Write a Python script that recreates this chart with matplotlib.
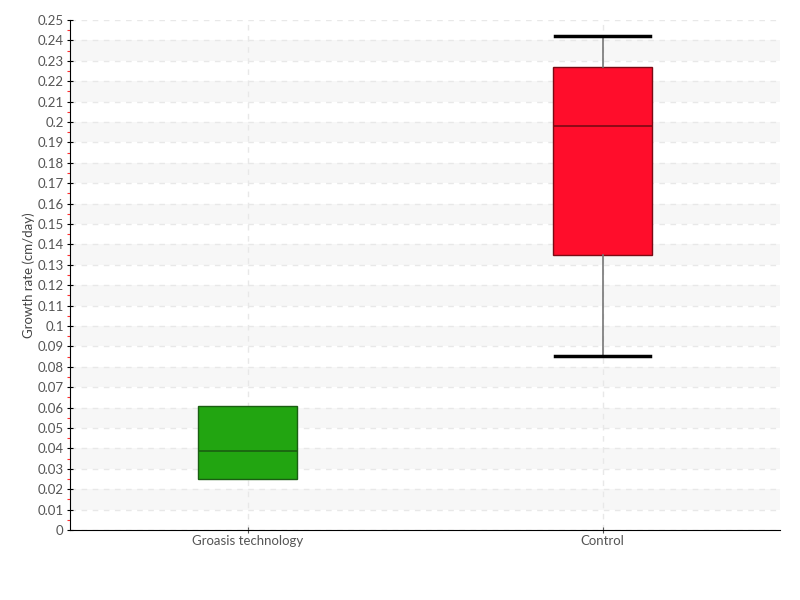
import matplotlib
matplotlib.use("Agg")
import matplotlib.pyplot as plt
from matplotlib.ticker import MultipleLocator

plt.rcParams["font.family"] = ["Lato", "DejaVu Sans"]

categories = ["Groasis technology", "Control"]
q1 = [0.025, 0.135]
medians = [0.0385, 0.198]
q3 = [0.061, 0.227]
whisker_low = [0.025, 0.0855]
whisker_high = [0.061, 0.242]
box_colors = ["#22a511", "#ff0d2b"]
edge_colors = ["#1a5e12", "#7a0a14"]

fig = plt.figure(figsize=(8, 6), dpi=100)
ax = fig.add_axes([0.0875, 0.1167, 0.8875, 0.85])

positions = [0.5, 1.5]
for i, name in enumerate(categories):
    stats = [{"label": name, "q1": q1[i], "med": medians[i], "q3": q3[i],
              "whislo": whisker_low[i], "whishi": whisker_high[i], "fliers": []}]
    has_whiskers = whisker_low[i] < q1[i] or whisker_high[i] > q3[i]
    ax.bxp(stats, positions=[positions[i]], widths=0.28, patch_artist=True,
           showcaps=has_whiskers, showfliers=False,
           boxprops=dict(facecolor=box_colors[i], edgecolor=edge_colors[i], linewidth=1),
           medianprops=dict(color=edge_colors[i], linewidth=1.2),
           whiskerprops=dict(color="#777777", linewidth=1.2),
           capprops=dict(color="black", linewidth=2.5), capwidths=0.27,
           zorder=3)

ax.set_xlim(0, 2)
ax.set_ylim(0, 0.25)
ax.set_xticks(positions)
ax.set_xticklabels(categories)

# alternating bands
for k in range(1, 25, 2):
    ax.axhspan(k / 100, (k + 1) / 100, color="#f7f7f7", zorder=0, linewidth=0)

ax.set_yticks([v / 100 for v in range(26)])
ax.set_yticklabels([("%.2f" % (v / 100)).rstrip("0").rstrip(".") if v else "0" for v in range(26)])
ax.yaxis.set_minor_locator(MultipleLocator(0.005))

ax.grid(True, which="major", axis="both", linestyle=(0, (4, 4)), color="#e8e8e8", linewidth=1, zorder=1)
ax.set_axisbelow(True)

for s in ["top", "right"]:
    ax.spines[s].set_visible(False)
ax.spines["left"].set_color("black")
ax.spines["bottom"].set_color("black")

ax.tick_params(axis="y", which="major", direction="inout", length=5, color="black",
               labelsize=9.5, labelcolor="#555555", pad=2)
ax.tick_params(axis="y", which="minor", direction="out", length=2.5, width=0.8, color="#ff3030")
ax.tick_params(axis="x", which="major", direction="inout", length=5, color="#555555",
               labelsize=9.5, labelcolor="#555555", pad=1)

ax.set_ylabel("Growth rate (cm/day)", fontsize=9.5, color="#444444")
ax.yaxis.set_label_coords(-0.049, 0.5)

fig.savefig("out.png")
